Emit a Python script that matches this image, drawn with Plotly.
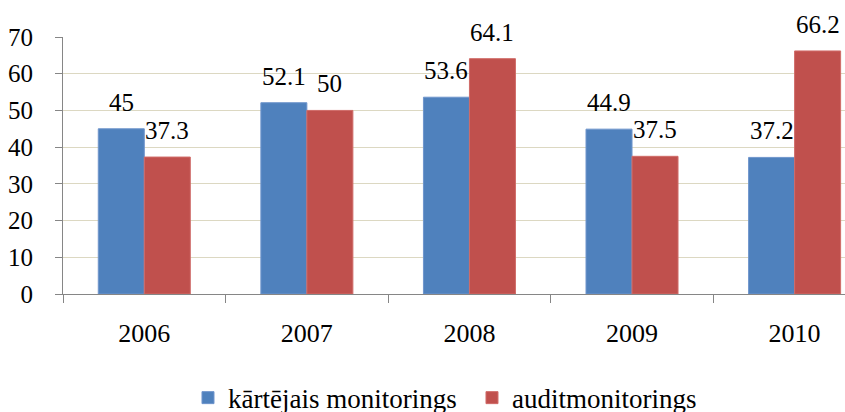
import plotly.graph_objects as go

years = ["2006", "2007", "2008", "2009", "2010"]
kartejais = [45, 52.1, 53.6, 44.9, 37.2]
audit = [37.3, 50, 64.1, 37.5, 66.2]
series_names = ["kārtējais monitorings", "auditmonitorings"]
y_ticks = [0, 10, 20, 30, 40, 50, 60, 70]

blue = "#4f81bd"
red = "#c0504d"
serif = "Times New Roman, Liberation Serif, serif"

fig = go.Figure()
fig.add_trace(go.Bar(x=years, y=kartejais, name=series_names[0],
                     marker=dict(color=blue, line=dict(color="#6f95cc", width=1))))
fig.add_trace(go.Bar(x=years, y=audit, name=series_names[1],
                     marker=dict(color=red, line=dict(color="#d06c69", width=1))))

# value labels sit a bit higher above the bars than plotly's outside text,
# placed by category index so "2006" etc. is not read as a number
for vals, shift in [(kartejais, -23), (audit, 23)]:
    for i, v in enumerate(vals):
        fig.add_annotation(x=i, y=v, xref="x", yref="y", text=f"{v:g}", showarrow=False,
                           xshift=shift, yshift=11, yanchor="bottom",
                           font=dict(family=serif, size=25, color="black"))

fig.update_layout(
    width=845, height=412,
    margin=dict(l=63, r=0, t=37, b=118, autoexpand=False),
    paper_bgcolor="white", plot_bgcolor="white",
    font=dict(family=serif, size=25, color="black"),
    barmode="group", bargap=0.434, bargroupgap=0,
    showlegend=True,
    legend=dict(orientation="h", x=0.523, xanchor="center", y=-0.405, yanchor="middle",
                font=dict(family=serif, size=27, color="black"), itemwidth=30,
                traceorder="normal", entrywidth=239, entrywidthmode="pixels"),
)
fig.update_xaxes(type="category", range=[-0.5, 4.31], showline=True, linecolor="#868686",
                 ticks="outside", tickson="boundaries", ticklen=8, tickcolor="#868686",
                 ticklabelstandoff=16, showgrid=False, zeroline=False,
                 tickfont=dict(family=serif, size=26))
fig.update_yaxes(range=[0, 70], tickvals=y_ticks, showline=True, linecolor="#868686",
                 ticks="outside", ticklen=7, tickcolor="#868686",
                 ticklabelstandoff=17, showgrid=True, gridcolor="#dcd8c2", gridwidth=1,
                 zeroline=False, tickfont=dict(family=serif, size=25))

# drop the page's default 8px body margin so the figure sits at the corner
fig.write_html("out.html", config={"displayModeBar": False},
               post_script="document.body.style.margin='0';")
